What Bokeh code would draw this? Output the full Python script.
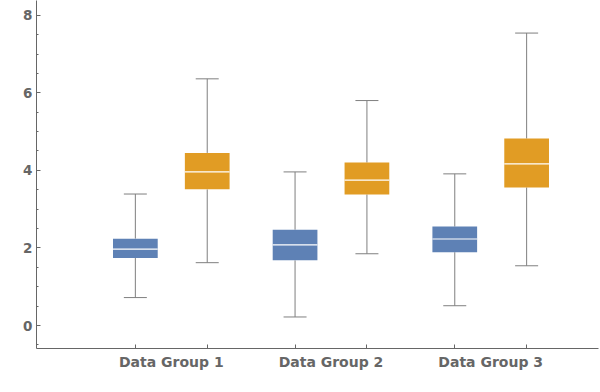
from bokeh.plotting import figure
from bokeh.models import FixedTicker, SingleIntervalTicker, Range1d
from bokeh.embed import file_html
from bokeh.resources import INLINE

groups = ["Data Group 1", "Data Group 2", "Data Group 3"]

# series A (blue)
a_min = [0.72, 0.22, 0.51]
a_q1 = [1.74, 1.68, 1.89]
a_med = [1.97, 2.08, 2.23]
a_q3 = [2.24, 2.47, 2.55]
a_max = [3.39, 3.96, 3.91]

# series B (orange)
b_min = [1.62, 1.85, 1.54]
b_q1 = [3.51, 3.38, 3.56]
b_med = [3.96, 3.75, 4.17]
b_q3 = [4.45, 4.20, 4.82]
b_max = [6.36, 5.80, 7.54]

y_ticks_interval = 2

OFF = 0.225
BW = 0.28
CW = 0.144
WHISK = "#7f7f7f"
AXC = "#666666"

p = figure(width=600, height=392, output_backend="svg", toolbar_location=None,
           x_range=Range1d(0.156, 3.675), y_range=Range1d(-0.593, 8.38),
           min_border_left=36, min_border_right=2, min_border_top=0, min_border_bottom=44)
p.grid.visible = False
p.outline_line_color = None

centers = [i + 1 for i in range(len(groups))]

def draw(xs, mn, q1, md, q3, mx, color):
    p.segment(x0=xs, x1=xs, y0=q3, y1=mx, line_color=WHISK, line_width=1)
    p.segment(x0=xs, x1=xs, y0=mn, y1=q1, line_color=WHISK, line_width=1)
    p.segment(x0=[x - CW / 2 for x in xs], x1=[x + CW / 2 for x in xs], y0=mx, y1=mx,
              line_color=WHISK, line_width=1)
    p.segment(x0=[x - CW / 2 for x in xs], x1=[x + CW / 2 for x in xs], y0=mn, y1=mn,
              line_color=WHISK, line_width=1)
    p.vbar(x=xs, width=BW, bottom=q1, top=q3, fill_color=color, line_color=None)
    p.segment(x0=[x - BW / 2 for x in xs], x1=[x + BW / 2 for x in xs], y0=md, y1=md,
              line_color="white", line_width=1.2)

xa = [c - OFF for c in centers]
xb = [c + OFF for c in centers]
draw(xa, a_min, a_q1, a_med, a_q3, a_max, "#5E81B5")
draw(xb, b_min, b_q1, b_med, b_q3, b_max, "#E19C24")

xax = p.xaxis[0]
xax.ticker = FixedTicker(ticks=centers, minor_ticks=xa + xb)
xax.major_label_overrides = {c: g for c, g in zip(centers, groups)}
xax.major_tick_in = 0
xax.major_tick_out = 0
xax.minor_tick_in = 4
xax.minor_tick_out = 0
xax.major_label_standoff = 5
xax.major_label_text_font = "DejaVu Sans"
xax.major_label_text_font_style = "bold"
xax.major_label_text_font_size = "14px"

yax = p.yaxis[0]
yax.ticker = SingleIntervalTicker(interval=y_ticks_interval, num_minor_ticks=4)
yax.major_tick_in = 4
yax.major_tick_out = 0
yax.minor_tick_in = 2
yax.minor_tick_out = 0
yax.major_label_standoff = 4
yax.major_label_text_font = "DejaVu Sans"
yax.major_label_text_font_style = "bold"
yax.major_label_text_font_size = "13.5px"

for ax in (xax, yax):
    ax.axis_line_color = AXC
    ax.major_tick_line_color = AXC
    ax.minor_tick_line_color = AXC
    ax.major_label_text_color = AXC
    ax.axis_line_width = 1

open("out.html", "w").write(file_html(p, INLINE))
